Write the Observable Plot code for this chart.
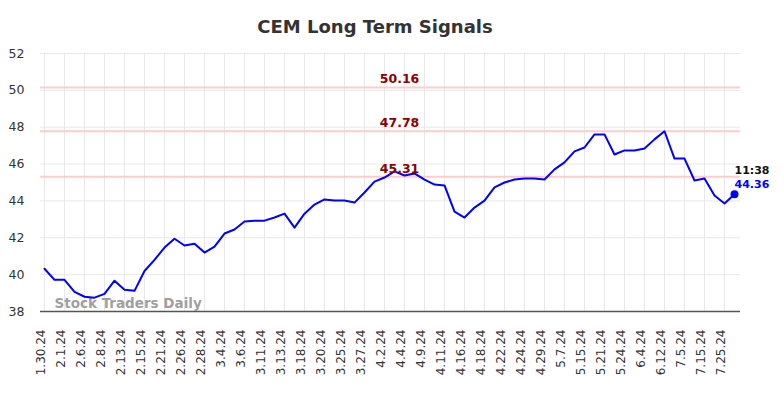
<!DOCTYPE html>
<html>
<head>
<meta charset="utf-8">
<script src="https://cdn.jsdelivr.net/npm/d3@7"></script>
<script src="https://cdn.jsdelivr.net/npm/@observablehq/plot@0.6"></script>
<style>
  html, body { margin: 0; padding: 0; background: #fff; }
  svg { display: block; }
</style>
</head>
<body>
<div id="chart"></div>
<script>
const title = "CEM Long Term Signals";
const watermark = "Stock Traders Daily";
const tickLabels = ["1.30.24","2.1.24","2.6.24","2.8.24","2.13.24","2.15.24","2.21.24","2.26.24","2.28.24","3.4.24","3.6.24","3.11.24","3.13.24","3.18.24","3.20.24","3.25.24","3.27.24","4.2.24","4.4.24","4.9.24","4.11.24","4.16.24","4.18.24","4.22.24","4.24.24","4.29.24","5.7.24","5.15.24","5.21.24","5.24.24","6.4.24","6.12.24","7.5.24","7.15.24","7.25.24"];
const values = [40.32, 39.72, 39.72, 39.07, 38.8, 38.75, 38.96, 39.67, 39.18, 39.12,
  40.2, 40.8, 41.47, 41.95, 41.58, 41.68, 41.2, 41.52, 42.23, 42.45,
  42.88, 42.93, 42.93, 43.1, 43.31, 42.55, 43.31, 43.8, 44.08, 44.02,
  44.02, 43.91, 44.46, 45.05, 45.27, 45.6, 45.38, 45.49, 45.16, 44.89,
  44.84, 43.42, 43.1, 43.64, 44.02, 44.73, 45.0, 45.16, 45.22, 45.22,
  45.16, 45.71, 46.09, 46.69, 46.9, 47.61, 47.61, 46.52, 46.74, 46.74,
  46.85, 47.34, 47.78, 46.3, 46.3, 45.11, 45.22, 44.29, 43.86, 44.36];
const signalLevels = [50.16, 47.78, 45.31];
const yTicks = [38, 40, 42, 44, 46, 48, 50, 52];
const lastTime = "11:38";

const points = values.map((v, i) => ({i, v}));
const tickIdx = tickLabels.map((_, k) => k * 2);
const last = points[points.length - 1];
const midIndex = (values.length - 1) / 2;
const font = "DejaVu Sans";

const chart = Plot.plot({
  width: 784,
  height: 398,
  marginLeft: 40,
  marginRight: 44,
  marginTop: 53,
  marginBottom: 87,
  style: {fontFamily: font, background: "#fff"},
  x: {type: "linear", domain: [-0.4, values.length - 0.4], axis: null},
  y: {domain: [38, 52], axis: null},
  marks: [
    Plot.gridY(yTicks, {stroke: "#e8e8e8", strokeOpacity: 1, strokeWidth: 1}),
    Plot.gridX(tickIdx, {stroke: "#e8e8e8", strokeOpacity: 1, strokeWidth: 1}),
    Plot.ruleY(signalLevels, {stroke: "#ffcccc", strokeWidth: 2}),
    Plot.ruleY([38], {stroke: "#555", strokeWidth: 1.5}),
    Plot.text(yTicks, {y: d => d, frameAnchor: "left", text: d => String(d), textAnchor: "end", dx: -16, fontSize: 12.5, fill: "#333"}),
    Plot.text(tickIdx, {x: d => d, frameAnchor: "bottom", text: d => tickLabels[d / 2], rotate: -90, textAnchor: "end", dy: 18, fontSize: 12, fill: "#333"}),
    Plot.text([watermark], {frameAnchor: "bottom-left", text: d => d, textAnchor: "start", lineAnchor: "bottom", dx: 14, dy: -4, fontSize: 13.5, fontWeight: "bold", fill: "#999", fillOpacity: 0.95}),
    Plot.line(points, {x: "i", y: "v", stroke: "#0000ff", strokeWidth: 2}),
    Plot.text(signalLevels, {x: () => midIndex, y: d => d, text: d => d.toFixed(2), dx: 10, dy: -4, lineAnchor: "bottom", fontSize: 12.5, fontWeight: "bold", fill: "#8b0000"}),
    Plot.dot([last], {x: "i", y: "v", r: 4, fill: "#0000ff"}),
    Plot.text([last], {x: "i", y: "v", text: () => lastTime, textAnchor: "start", lineAnchor: "bottom", dy: -20, fontSize: 11, fontWeight: "bold", fill: "#111"}),
    Plot.text([last], {x: "i", y: "v", text: d => d.v.toFixed(2), textAnchor: "start", lineAnchor: "bottom", dy: -6, fontSize: 11, fontWeight: "bold", fill: "#0000ff"}),
    Plot.text([title], {frameAnchor: "top", text: d => d, lineAnchor: "bottom", dx: -15.5, dy: -21, fontSize: 18, fontWeight: "bold", fill: "#333"})
  ]
});
document.getElementById("chart").appendChild(chart);
</script>
</body>
</html>
